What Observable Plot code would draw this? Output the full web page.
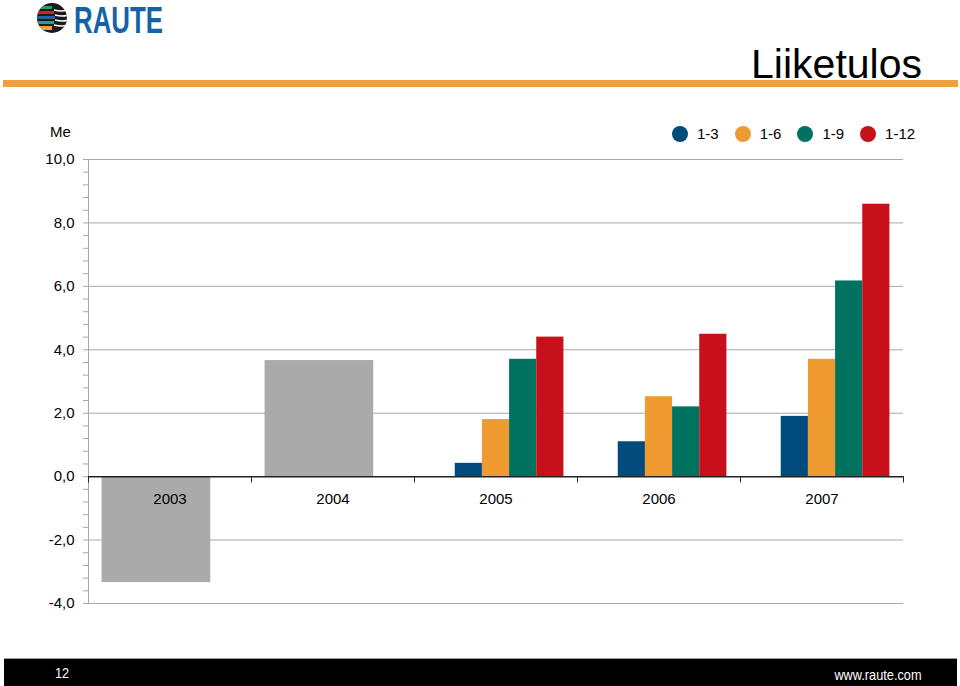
<!DOCTYPE html>
<html>
<head>
<meta charset="utf-8">
<script src="https://cdn.jsdelivr.net/npm/d3@7"></script>
<script src="https://cdn.jsdelivr.net/npm/@observablehq/plot@0.6"></script>
<style>
html, body { margin: 0; padding: 0; background: #fff; }
#page { position: relative; width: 960px; height: 686px; overflow: hidden; font-family: "Liberation Sans", Arial, sans-serif; color: #000; }
#chart { position: absolute; left: 0; top: 0; }
#logo { position: absolute; left: 34px; top: 0px; }
#title { position: absolute; right: 38px; top: 44px; font-size: 41px; line-height: 1; white-space: nowrap; }
#rule { position: absolute; left: 3px; top: 80px; width: 955px; height: 7px; background: #f0a03c; }
#unit { position: absolute; left: 50px; top: 124px; font-size: 15px; line-height: 1; }
#legend { position: absolute; left: 672px; top: 126px; display: flex; align-items: center; font-size: 15px; line-height: 16px; }
#legend .sw { width: 16px; height: 16px; border-radius: 50%; margin-right: 9px; }
#legend .lb { margin-right: 16px; }
#footer { position: absolute; left: 4px; top: 658px; width: 953px; height: 28px; background: #000; border-top: 1px solid #9a9a9a; box-sizing: border-box; color: #fff; font-family: "Liberation Sans", Arial, sans-serif; font-size: 15px; }
#footer .pg { position: absolute; left: 51px; top: 5px; display: inline-block; transform: scaleX(0.85); transform-origin: left center; }
#footer .url { position: absolute; right: 35px; top: 7px; display: inline-block; transform: scaleX(0.85); transform-origin: right center; }
</style>
</head>
<body>
<div id="page">
  <svg id="logo" width="180" height="40" viewBox="0 0 180 40">
    <defs><clipPath id="cc"><circle cx="18" cy="18" r="15"/></clipPath></defs>
    <circle cx="18" cy="18" r="15" fill="#1b1b1b"/>
    <g clip-path="url(#cc)">
      <rect x="0" y="6" width="18" height="3" fill="#2f9a6c"/>
      <rect x="0" y="11" width="20" height="3" fill="#d2232a"/>
      <rect x="0" y="16" width="21" height="3" fill="#1d64a8"/>
      <rect x="0" y="21" width="20" height="3" fill="#2f9a8a"/>
      <rect x="0" y="26" width="18" height="4" fill="#f0a03c"/>
      <path d="M20 10 Q28 12 33 10 M21 15 Q29 17 34 15 M21 20 Q29 22 34 20 M20 25 Q28 27 33 25" stroke="#fff" stroke-width="1.5" fill="none"/>
    </g>
    <text x="40" y="33" font-family="Liberation Sans, Arial" font-weight="bold" font-size="36" fill="#1463a6" textLength="89" lengthAdjust="spacingAndGlyphs">RAUTE</text>
  </svg>
  <div id="title">Liiketulos</div>
  <div id="rule"></div>
  <div id="unit">Me</div>
  <div id="legend"></div>
  <div id="chart"></div>
  <div id="footer"><span class="pg">12</span><span class="url">www.raute.com</span></div>
</div>
<script>
// ---- data ----
const years = ["2003", "2004", "2005", "2006", "2007"];
const series = ["1-3", "1-6", "1-9", "1-12"];
const seriesColors = ["#004a7c", "#f09b32", "#00725f", "#c8101b"];
const annualColor = "#aaaaaa";
// full-year result for years reported only annually (grey bars)
const annual = [-3.34, 3.66, null, null, null];
const v1_3 = [null, null, 0.42, 1.10, 1.90];
const v1_6 = [null, null, 1.80, 2.52, 3.70];
const v1_9 = [null, null, 3.70, 2.20, 6.17];
const v1_12 = [null, null, 4.40, 4.49, 8.59];
const majorTicks = [-4, -2, 0, 2, 4, 6, 8, 10];
const minorTicks = [-4, -3.6, -3.2, -2.8, -2.4, -2, -1.6, -1.2, -0.8, -0.4, 0, 0.4, 0.8, 1.2, 1.6, 2, 2.4, 2.8, 3.2, 3.6, 4, 4.4, 4.8, 5.2, 5.6, 6, 6.4, 6.8, 7.2, 7.6, 8, 8.4, 8.8, 9.2, 9.6, 10];

// ---- table ----
const seriesValues = [v1_3, v1_6, v1_9, v1_12];
const rows = [];
years.forEach((yr, i) => {
  if (annual[i] != null) rows.push({year: yr, slot: 0, span: 4, value: annual[i], series: "annual"});
  seriesValues.forEach((arr, s) => {
    if (arr[i] != null) rows.push({year: yr, slot: s + 1, span: 1, value: arr[i], series: series[s]});
  });
});

// ---- legend ----
const legend = document.getElementById("legend");
series.forEach((s, i) => {
  const sw = document.createElement("span");
  sw.className = "sw"; sw.style.background = seriesColors[i];
  const lb = document.createElement("span");
  lb.className = "lb"; lb.textContent = s;
  legend.append(sw, lb);
});

const fmt = d => d.toFixed(1).replace(".", ",");
const gridColor = "#a8a8a8";

const chart = Plot.plot({
  width: 960,
  height: 686,
  marginLeft: 87,
  marginRight: 57,
  marginTop: 159,
  marginBottom: 83,
  style: {fontFamily: "Liberation Sans, Arial, sans-serif", fontSize: "15px", color: "#000", background: "transparent", overflow: "visible"},
  fx: {domain: years, padding: 0, axis: null},
  x: {domain: [0, 6], axis: null},
  y: {domain: [-4, 10]},
  color: {domain: ["annual", ...series], range: [annualColor, ...seriesColors]},
  marks: [
    Plot.ruleY(majorTicks.filter(d => d !== 0), {stroke: gridColor, strokeWidth: 1}),
    Plot.axisY(minorTicks, {tickSize: 5, stroke: gridColor, fill: "none", label: null}),
    Plot.axisY(majorTicks, {tickSize: 0, tickPadding: 14, tickFormat: fmt, fill: "#000", stroke: "none", label: null, fontSize: 15}),
    Plot.ruleX(["2003"], {fx: d => d, x: 0, y1: -4, y2: 10, stroke: gridColor}),
    Plot.rect(rows, {fx: "year", x1: d => d.slot + 0.5, x2: d => d.slot + d.span + 0.5, y1: 0, y2: "value", fill: "series"}),
    Plot.ruleY([0], {stroke: "#222", strokeWidth: 1.5}),
    Plot.ruleX(years, {fx: d => d, x: 0, y1: 0, y2: -0.2, stroke: "#222"}),
    Plot.ruleX(["2007"], {fx: d => d, x: 6, y1: 0, y2: -0.2, stroke: "#222"}),
    Plot.text(years, {fx: d => d, x: 3, y: 0, text: d => d, dy: 23, fontSize: 15, fill: "#000"})
  ]
});
document.getElementById("chart").append(chart);
</script>
</body>
</html>
